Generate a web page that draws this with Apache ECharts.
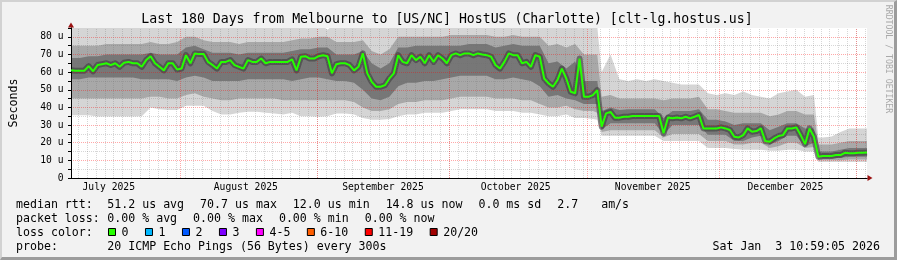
<!DOCTYPE html>
<html>
<head>
<meta charset="utf-8">
<script src="https://cdn.jsdelivr.net/npm/echarts@6/dist/echarts.min.js"></script>
<style>
html,body{margin:0;padding:0;background:#f2f2f2;}
#wrap{position:relative;width:897px;height:260px;overflow:hidden;}
#c{width:897px;height:260px;}
#frame{position:absolute;left:0;top:0;width:897px;height:260px;box-sizing:border-box;border-style:solid;border-width:2px 3px 3px 2px;border-color:#d2d2d2 #9c9c9c #9c9c9c #d2d2d2;pointer-events:none;}
</style>
</head>
<body>
<div id="wrap"><div id="c"></div><div id="frame"></div></div>
<script>
// ---------------- DATA ----------------
const titleText = 'Last 180 Days from Melbourne to [US/NC] HostUS (Charlotte) [clt-lg.hostus.us]';
const monthLabels = ['July 2025', 'August 2025', 'September 2025', 'October 2025', 'November 2025', 'December 2025'];
const yTickUnit = ' u';

// median rtt, one value per day (day 0 = start of the 180-day window)
const median = [
  61.1, 60.8, 60.8, 60.8, 63.4, 60.5, 64.0, 64.5, 65.0, 64.0,
  65.0, 63.0, 65.3, 65.8, 65.0, 65.0, 63.0, 66.8, 69.0, 65.0,
  63.0, 61.0, 65.0, 65.0, 61.5, 62.0, 69.6, 65.0, 70.6, 70.2,
  70.2, 65.8, 64.0, 62.0, 65.8, 65.8, 66.8, 64.0, 63.0, 62.0,
  66.8, 65.8, 65.8, 67.7, 65.0, 65.8, 65.8, 65.8, 65.8, 65.8,
  67.2, 61.0, 68.7, 69.0, 67.7, 67.7, 69.0, 69.6, 69.0, 59.3,
  64.5, 65.0, 65.0, 64.0, 61.0, 63.0, 70.6, 59.3, 54.5, 51.7,
  51.7, 52.6, 56.4, 59.3, 69.6, 65.8, 65.0, 69.6, 66.8, 68.7,
  65.0, 69.6, 65.8, 69.6, 67.7, 65.0, 69.6, 70.6, 69.6, 70.6,
  70.6, 69.6, 70.6, 70.0, 69.6, 68.7, 64.0, 62.0, 65.8, 70.6,
  69.6, 69.6, 65.0, 65.8, 63.0, 69.6, 68.7, 56.4, 53.6, 51.7,
  55.5, 62.0, 56.4, 48.9, 48.0, 67.7, 46.0, 46.0, 47.0, 49.8,
  29.1, 36.6, 37.5, 34.2, 34.2, 34.7, 34.7, 35.1, 35.1, 35.1,
  35.1, 35.1, 35.1, 35.1, 25.3, 34.3, 33.8, 34.3, 33.8, 34.7,
  33.8, 34.7, 35.7, 28.1, 28.1, 28.1, 28.1, 28.7, 28.1, 27.2,
  23.4, 23.0, 24.3, 28.1, 26.2, 26.6, 28.1, 20.9, 20.6, 22.4,
  23.8, 24.3, 28.1, 28.1, 28.7, 24.3, 19.2, 28.1, 23.4, 12.0,
  12.5, 12.5, 12.5, 13.0, 13.0, 14.3, 14.0, 14.0, 14.3, 14.3,
  14.5
];

// smoke (spread of the 20 pings), sampled on these days
const smokeDays = [
  0, 2, 4, 6, 8, 10, 12, 14, 16, 18, 20, 22, 24, 26, 28, 30, 32, 34, 36, 38,
  40, 42, 44, 46, 48, 50, 52, 54, 56, 58, 60, 62, 64, 66, 68, 70, 72, 74, 76, 78,
  80, 82, 84, 86, 88, 90, 92, 94, 96, 98, 100, 102, 104, 106, 108, 110, 112, 114, 116, 118,
  119, 120, 122, 124, 126, 128, 130, 132, 134, 136, 138, 140, 142, 144, 146, 148, 150, 152, 154, 156,
  158, 160, 162, 164, 166, 168, 169, 170, 172, 174, 176, 178, 180
];
// lowest ping
const smokeLo = [
  35.5, 35.5, 35.5, 34.8, 34.8, 34.8, 34.8, 34.8, 35.0, 40.0, 39.0, 38.5, 38.5, 41.0, 41.0, 41.0, 38.0, 36.0, 36.0, 37.0,
  37.5, 37.5, 37.0, 36.5, 36.0, 37.0, 35.0, 35.0, 34.7, 35.0, 36.5, 36.5, 36.0, 34.0, 33.0, 33.0, 33.5, 35.0, 36.0, 36.0,
  37.0, 37.0, 37.0, 38.0, 39.0, 39.0, 39.0, 39.0, 38.0, 38.0, 38.0, 37.0, 37.0, 36.0, 35.0, 35.0, 36.0, 34.0, 34.0, 33.5,
  33.0, 24.0, 24.0, 24.0, 24.0, 24.0, 24.0, 24.0, 21.0, 21.0, 21.0, 21.0, 21.0, 17.0, 17.0, 17.0, 16.5, 16.0, 16.0, 16.0,
  15.5, 15.5, 16.0, 16.0, 15.0, 15.0, 9.0, 9.0, 9.0, 9.0, 9.0, 9.0, 9.0
];
// lower edge of the medium-grey band
const smokeL2 = [
  45, 45, 45, 45, 45, 45, 45, 45, 45, 46, 46, 45, 45, 47, 48, 46, 45, 44, 44, 45,
  45, 45, 45, 45, 44, 44, 44, 44, 44, 44, 44, 44, 43, 40, 38, 38, 39, 42, 43, 43,
  44, 44, 44, 45, 46, 46, 46, 46, 45, 45, 45, 44, 44, 42, 40, 40, 41, 39, 38, 38,
  37, 26, 27, 27, 27, 27, 27, 27, 23, 25, 25, 25, 25, 21, 21, 21, 19, 19, 20, 20,
  17, 18, 20, 20, 17, 17.5, 10, 10, 10, 10, 10.5, 10.5, 10.5
];
// lower edge of the dark core
const smokeL1 = [
  56, 56, 57, 57, 57, 57, 57, 57, 56, 56, 56, 56, 55, 57, 58, 57, 55, 55, 55, 55,
  56, 56, 56, 56, 56, 55, 56, 57, 57, 56, 55, 55, 54, 50, 45, 44, 46, 52, 54, 54,
  55, 55, 56, 57, 58, 58, 58, 58, 56, 56, 57, 56, 55, 52, 46, 47, 45, 44, 42, 42,
  42, 27.5, 31, 31, 31, 31, 31, 31, 24.5, 30, 30, 30, 30, 24.5, 24.5, 24.5, 21, 21, 23, 24,
  19, 21, 24, 24, 18, 20, 11, 11, 11, 11.5, 12, 12, 12
];
// upper edge of the dark core
const smokeU1 = [
  68, 68, 69, 69, 70, 70, 70, 70, 70, 71, 70, 70, 70, 74, 75, 73, 71, 71, 71, 70,
  71, 71, 71, 71, 71, 72, 73, 73, 74, 74, 70, 70, 70, 72, 65, 62, 65, 74, 74, 75,
  75, 75, 75, 75, 75, 76, 76, 76, 74, 75, 76, 75, 75, 75, 65, 66, 62, 66, 55, 55,
  55, 38, 40, 38.5, 39, 39, 39, 39, 34, 38, 38, 38, 39, 33, 33, 32, 30, 31, 31, 31,
  27, 29, 31, 31, 28, 28, 15, 15, 15, 16, 17, 17, 17
];
// upper edge of the medium-grey band
const smokeU2 = [
  75, 75, 75, 75, 76, 76, 76, 76, 76, 77, 76, 76, 77, 80, 80, 78, 77, 77, 77, 76,
  77, 77, 77, 77, 77, 78, 79, 79, 80, 80, 77, 77, 77, 78, 72, 70, 73, 80, 80, 80,
  80, 80, 80, 81, 81, 81, 81, 81, 80, 80, 81, 80, 80, 80, 75, 76, 74, 76, 70, 70,
  70, 46, 47, 45, 45, 45, 45, 45, 44, 45, 45, 45, 46, 39, 39, 38, 37, 37, 37, 37,
  35, 36, 38, 38, 36, 36, 19, 19, 19, 20, 21, 21, 21
];
// highest ping
const smokeHi = [
  88, 88, 88, 88, 88, 88, 88, 88, 88, 88, 88, 88, 88, 88, 88, 88, 88, 88, 88, 88,
  88, 88, 88, 88, 88, 88, 88, 88, 88, 84, 88, 88, 88, 88, 88, 88, 88, 88, 88, 88,
  88, 88, 88, 88, 88, 88, 88, 88, 88, 88, 88, 88, 88, 88, 88, 88, 88, 88, 87, 86,
  86, 60, 70, 56, 55, 56, 55, 56, 55, 54, 53, 53, 53, 48, 47, 48, 47, 49, 47, 46,
  45, 48, 49, 50, 46, 47, 23, 23, 23.5, 26, 28, 28, 28
];

const statLabels = ['median rtt:', 'packet loss:', 'loss color:', 'probe:'];
const rttStats = ['51.2 us avg', '70.7 us max', '12.0 us min', '14.8 us now', '0.0 ms sd', '2.7 ', 'am/s'];
const lossStats = ['0.00 % avg', '0.00 % max', '0.00 % min', '0.00 % now'];
const lossLabels = ['0', '1', '2', '3', '4-5', '6-10', '11-19', '20/20'];
const lossColors = ['#26ff00', '#00b8ff', '#0059ff', '#7e00ff', '#ff00ff', '#ff5e00', '#ff0000', '#a10000'];
const probeText = '20 ICMP Echo Pings (56 Bytes) every 300s';
const stampText = 'Sat Jan  3 10:59:05 2026';
const vendorText = 'RRDTOOL / TOBI OETIKER';

// ---------------- TIME GEOMETRY ----------------
const DAY = 86400000;
const spanDays = 180;
const endTime = Date.UTC(2026, 0, 3, 10, 59, 5);
const startTime = endTime - spanDays * DAY;
const toDay = t => (t - startTime) / DAY;
const monthStartDays = [[2025,7],[2025,8],[2025,9],[2025,10],[2025,11],[2026,0]].map(a => toDay(Date.UTC(a[0], a[1], 1)));
const monthMidDays = [6,7,8,9,10,11].map(m => toDay(Date.UTC(2025, m, 16)));
const minorDays = [];
for (let d = toDay(Date.UTC(2026, 0, 1)) + 2; d >= 0; d -= 2) if (d <= spanDays) minorDays.push(d);

const plotLeft = 67, plotWidth = 800;
const pxPerDay = plotWidth / spanDays;
const snap = d => (Math.round(plotLeft + d * pxPerDay) + 0.5 - plotLeft) / pxPerDay;

const MONO = '"DejaVu Sans Mono", monospace';
const redGrid = 'rgba(255,0,0,0.34)';
const greyGrid = 'rgba(110,110,110,0.28)';
const shadeLight = '#d5d5d5', shadeMid = '#a8a8a8', shadeDark = '#777777';

// ---------------- SERIES ----------------
// Smoke bands drawn as overlapping areas from the top boundary downwards;
// the lowest boundary is filled with the plot background.
const bounds = [smokeHi, smokeU2, smokeU1, smokeL1, smokeL2, smokeLo];
const boundFill = [shadeLight, shadeMid, shadeDark, shadeMid, shadeLight, '#ffffff'];
const series = bounds.map((arr, i) => {
  const s = {
    type: 'line', symbol: 'none', showSymbol: false, silent: true, z: 2,
    xAxisIndex: 0, yAxisIndex: 0,
    data: arr.map((v, j) => [smokeDays[j], v]),
    lineStyle: { width: 0, opacity: 0 },
    areaStyle: { color: boundFill[i], opacity: 1, origin: 'start' }
  };
  if (i === 0) {
    s.markLine = {
      silent: true, symbol: ['none', 'none'], label: { show: false }, animation: false, z: 4,
      emphasis: { disabled: true },
      data: minorDays.map(d => ({ xAxis: snap(d), lineStyle: { color: greyGrid, type: [1, 1], width: 1 } }))
        .concat(monthStartDays.map(d => ({ xAxis: snap(d), lineStyle: { color: redGrid, type: [1, 1], width: 1 } })))
    };
  }
  return s;
});
// darkest smoke hugging the median (pings closest to the median)
series.push({
  type: 'line', symbol: 'none', showSymbol: false, silent: true, z: 2,
  data: median.map((v, i) => [i, v]),
  lineStyle: { color: '#383838', width: 6, opacity: 0.55, join: 'round', cap: 'butt' }
});
series.push({
  type: 'line', name: 'median', symbol: 'none', showSymbol: false, silent: true, z: 6,
  data: median.map((v, i) => [i, v]),
  lineStyle: { color: '#26ff00', width: 2 }
});

// ---------------- LEGEND TEXT ----------------
const ROWF = '11.6px ' + MONO;
const CW = 6.98;
const rowY = [204.5, 218.5, 232.5, 246.5];
const g = [];
function txt(x, y, s, extra) {
  g.push({ type: 'text', x: x, y: y, silent: true, z: 10,
    style: Object.assign({ text: s, font: ROWF, fill: '#000', align: 'left', verticalAlign: 'middle' }, extra || {}) });
}
txt(447, 19.4, titleText, { font: '13.2px ' + MONO, align: 'center' });
statLabels.forEach((s, i) => txt(16, rowY[i], s));
let x = 107.3;
rttStats.forEach(s => { txt(x, rowY[0], s); x += CW * s.length + 16; });
x = 107.3;
lossStats.forEach(s => { txt(x, rowY[1], s); x += CW * s.length + 16; });
x = 108;
lossLabels.forEach((s, i) => {
  g.push({ type: 'rect', silent: true, z: 10, shape: { x: x + 0.5, y: 228.5, width: 7, height: 7 },
    style: { fill: lossColors[i], stroke: '#000', lineWidth: 1 } });
  txt(x + 13.5, rowY[2], s);
  x += 30 + CW * s.length;
});
txt(107.3, rowY[3], probeText);
txt(880, rowY[3], stampText, { align: 'right' });
g.push({ type: 'text', x: 888, y: 59, rotation: -Math.PI / 2, silent: true, z: 10,
  style: { text: vendorText, font: '8.2px ' + MONO, fill: '#a9a9a9', align: 'center', verticalAlign: 'middle' } });

// ---------------- OPTION ----------------
const arrowColor = '#9b1212';
const option = {
  animation: false,
  backgroundColor: '#f2f2f2',
  textStyle: { fontFamily: MONO },
  grid: { left: plotLeft, right: 30, top: 28, bottom: 82, show: true, backgroundColor: '#ffffff', borderWidth: 0 },
  xAxis: [
    { type: 'value', min: 0, max: spanDays, position: 'bottom', z: 4,
      axisLine: { show: true, onZero: false, lineStyle: { color: '#000', width: 1 } },
      axisTick: { show: false }, splitLine: { show: false },
      axisLabel: { customValues: monthMidDays, color: '#000', fontSize: 9.7, fontFamily: MONO, margin: 9, verticalAlign: 'middle',
        formatter: v => { let best = 0; monthMidDays.forEach((m, i) => { if (Math.abs(m - v) < Math.abs(monthMidDays[best] - v)) best = i; }); return monthLabels[best]; } } },
    { type: 'value', min: 0, max: spanDays, position: 'bottom', offset: 0, z: 1,
      axisLine: { show: true, onZero: false, symbol: ['none', 'triangle'], symbolSize: [6, 5], symbolOffset: [0, 3], lineStyle: { color: arrowColor, width: 1 } },
      axisTick: { show: false }, axisLabel: { show: false }, splitLine: { show: false } }
  ],
  yAxis: [
    { type: 'value', min: 0, max: 85, interval: 5, position: 'left', z: 3,
      name: 'Seconds', nameLocation: 'middle', nameGap: 51, nameTextStyle: { color: '#000', fontSize: 11.6, fontFamily: MONO },
      axisLine: { show: true, onZero: false, lineStyle: { color: '#000', width: 1 } },
      axisTick: { show: true, length: 3, lineStyle: { color: '#000' } },
      axisLabel: { color: '#000', fontSize: 9.7, fontFamily: MONO, margin: 7.5,
        formatter: v => (v === 0 ? '0' : (v % 10 === 0 && v <= 80 ? v + yTickUnit : '')) },
      splitLine: { show: true, showMaxLine: false, lineStyle: { color: [redGrid, greyGrid], type: [1, 1], width: 1 } } },
    { type: 'value', min: 0, max: 85, position: 'left', offset: 0, z: 1,
      axisLine: { show: true, onZero: false, symbol: ['none', 'triangle'], symbolSize: [6, 5], symbolOffset: [0, 3], lineStyle: { color: arrowColor, width: 1 } },
      axisTick: { show: false }, axisLabel: { show: false }, splitLine: { show: false } }
  ],
  series: series,
  graphic: g
};
const chart = echarts.init(document.getElementById('c'), null, { renderer: 'canvas' });
chart.setOption(option);
</script>
</body>
</html>
